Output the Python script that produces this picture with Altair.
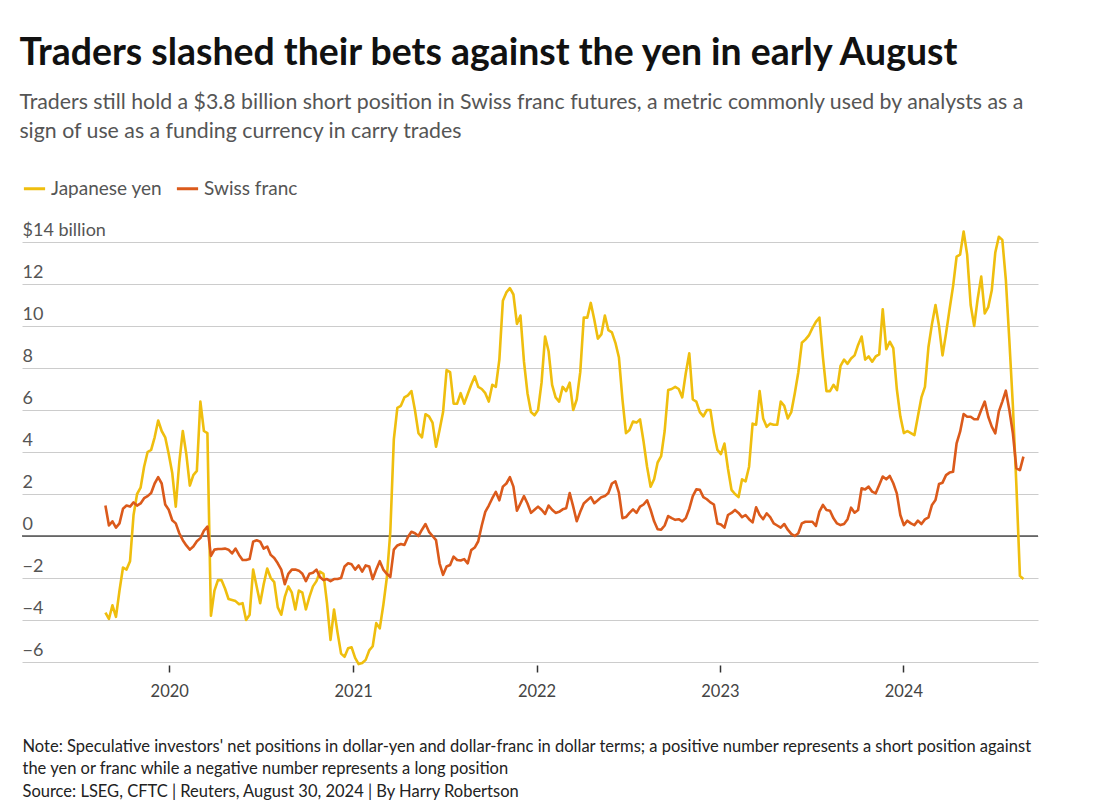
import altair as alt
import pandas as pd

# Weekly CFTC positioning, first week = 2019-08-27, $ billion
START_DATE = "2019-08-27"

yen = [
    -3.65, -3.95, -3.3, -3.85, -2.6, -1.5, -1.6, -1.2, 1.0, 2.0,
    2.3, 3.3, 4.0, 4.1, 4.7, 5.5, 5.0, 4.7, 3.9, 3.0,
    1.4, 3.5, 5.0, 3.9, 2.4, 2.9, 3.1, 6.4, 5.0, 4.9,
    -3.8, -2.6, -2.1, -2.1, -2.5, -3.0, -3.05, -3.1, -3.25, -3.2,
    -4.0, -3.75, -1.6, -2.4, -3.2, -2.3, -1.55, -2.0, -2.2, -3.4,
    -3.75, -2.9, -2.4, -2.7, -3.5, -2.6, -2.7, -3.5, -2.9, -2.4,
    -2.15, -1.7, -1.8, -3.2, -4.95, -3.5, -4.6, -5.6, -5.75, -5.35,
    -5.3, -5.8, -6.1, -6.05, -5.9, -5.45, -5.25, -4.15, -4.4, -3.3,
    -2.0, 0.2, 4.6, 6.1, 6.2, 6.6, 6.7, 6.9, 6.0, 4.9,
    4.7, 5.8, 5.7, 5.4, 4.25, 5.05, 5.9, 7.9, 7.8, 6.3,
    6.3, 6.8, 6.3, 6.75, 7.2, 7.6, 7.1, 7.0, 6.8, 6.4,
    7.2, 7.1, 8.4, 11.2, 11.6, 11.8, 11.5, 10.1, 10.5, 8.3,
    6.8, 5.9, 5.75, 6.0, 7.3, 9.5, 8.8, 7.2, 6.6, 6.4,
    7.1, 6.9, 7.3, 6.0, 6.5, 7.8, 10.4, 10.4, 11.1, 10.3,
    9.4, 9.6, 10.5, 9.8, 9.7, 9.2, 8.5, 6.5, 4.9, 5.05,
    5.45, 5.4, 5.55, 4.5, 3.3, 2.35, 2.7, 3.5, 3.8, 5.0,
    6.95, 7.0, 7.1, 7.0, 6.6, 7.75, 8.7, 6.5, 6.4, 5.9,
    5.7, 6.0, 6.0, 4.9, 4.1, 3.9, 4.4, 3.2, 2.2, 2.0,
    1.85, 2.7, 2.6, 3.3, 5.35, 5.3, 6.9, 5.6, 5.2, 5.35,
    5.3, 5.3, 6.4, 6.2, 5.6, 5.9, 6.8, 7.8, 9.2, 9.35,
    9.55, 9.9, 10.2, 10.4, 8.5, 6.9, 6.9, 7.2, 6.95, 8.1,
    8.4, 8.2, 8.45, 8.6, 9.1, 9.5, 8.4, 8.55, 8.3, 8.55,
    8.65, 10.8, 8.9, 9.25, 8.95, 7.0, 5.7, 4.9, 5.0, 4.9,
    4.8, 5.7, 6.6, 7.1, 9.0, 10.1, 11.0, 10.0, 8.6, 9.65,
    10.8, 11.9, 13.3, 13.4, 14.5, 13.4, 11.0, 10.0, 11.3, 12.35,
    10.6, 10.9, 11.7, 13.5, 14.25, 14.1, 12.2, 9.3, 6.2, 2.4,
    -1.9, -2.05,
]

franc = [
    1.45, 0.5, 0.7, 0.4, 0.6, 1.3, 1.45, 1.4, 1.6, 1.45,
    1.55, 1.8, 1.9, 2.05, 2.5, 2.8, 2.5, 1.5, 1.25, 0.75,
    0.6, 0.13, -0.2, -0.45, -0.65, -0.5, -0.25, -0.1, 0.25, 0.45,
    -0.95, -0.65, -0.62, -0.62, -0.6, -0.65, -0.83, -0.6, -0.9, -1.14,
    -1.14, -1.1, -0.27, -0.2, -0.27, -0.6, -0.5, -0.9, -1.05, -1.3,
    -1.6, -2.3, -1.8, -1.6, -1.6, -1.65, -1.8, -2.15, -1.8, -1.75,
    -1.6, -1.95, -2.1, -2.05, -2.15, -2.05, -2.05, -2.0, -1.45, -1.3,
    -1.35, -1.6, -1.4, -1.7, -1.4, -1.45, -2.05, -1.6, -1.2, -1.6,
    -1.8, -1.95, -0.65, -0.45, -0.38, -0.43, -0.05, 0.2, 0.13, 0.0,
    0.3, 0.57, 0.2, 0.0, -0.2, -1.3, -1.85, -1.45, -1.38, -0.98,
    -1.14, -1.17, -1.1, -1.3, -0.67, -0.55, -0.25, 0.5, 1.15, 1.45,
    1.8, 2.1, 1.7, 2.35, 2.5, 2.8, 2.35, 1.2, 1.55, 1.9,
    1.55, 1.1, 1.25, 1.4, 1.25, 1.05, 1.45, 1.25, 1.1, 1.15,
    1.27, 1.32, 2.05, 1.4, 0.7, 1.15, 1.55, 1.7, 1.85, 1.56,
    1.7, 1.85, 1.9, 2.05, 2.5, 2.6, 2.05, 0.85, 0.9, 1.1,
    1.27, 1.1, 1.4, 1.5, 1.7, 1.25, 0.7, 0.32, 0.3, 0.5,
    0.95, 0.85, 0.77, 0.8, 0.7, 0.85, 1.3, 1.9, 2.22, 2.2,
    1.85, 1.75, 1.6, 1.5, 0.6, 0.55, 0.4, 1.0, 1.1, 1.24,
    1.1, 0.9, 1.0, 0.8, 0.65, 1.37, 1.0, 0.8, 1.08, 0.9,
    0.6, 0.5, 0.4, 0.57, 0.3, 0.1, 0.0, 0.13, 0.6, 0.68,
    0.68, 0.68, 0.48, 1.16, 1.48, 1.24, 1.2, 0.84, 0.6, 0.52,
    0.57, 0.8, 1.35, 1.11, 1.24, 2.27, 2.22, 2.35, 2.11, 2.03,
    2.43, 2.83, 2.7, 2.86, 2.51, 2.03, 1.0, 0.52, 0.73, 0.6,
    0.52, 0.73, 0.57, 0.79, 0.89, 1.48, 1.71, 2.48, 2.54, 2.9,
    3.02, 3.06, 4.41, 4.97, 5.81, 5.68, 5.68, 5.56, 5.56, 6.0,
    6.4, 5.68, 5.21, 4.89, 5.92, 6.4, 6.92, 6.0, 4.89, 3.22,
    3.14, 3.78,
]

series_names = ["Japanese yen", "Swiss franc"]
series_colors = ["#EFBE0E", "#DB5A1B"]
year_ticks = [2020, 2021, 2022, 2023, 2024]
y_ticks = [-6, -4, -2, 0, 2, 4, 6, 8, 10, 12, 14]

title_text = "Traders slashed their bets against the yen in early August"
subtitle_lines = [
    "Traders still hold a $3.8 billion short position in Swiss franc futures, a metric commonly used by analysts as a",
    "sign of use as a funding currency in carry trades",
]
note_lines = [
    "Note: Speculative investors' net positions in dollar-yen and dollar-franc in dollar terms; a positive number represents a short position against",
    "the yen or franc while a negative number represents a long position",
    "Source: LSEG, CFTC | Reuters, August 30, 2024 | By Harry Robertson",
]

dates = pd.date_range(START_DATE, periods=len(yen), freq="7D")
df = pd.concat([
    pd.DataFrame({"date": dates, "series": series_names[0], "value": yen}),
    pd.DataFrame({"date": dates, "series": series_names[1], "value": franc}),
])
df["date"] = df["date"].dt.strftime("%Y-%m-%d")

FONT = "Lato"

x_enc = alt.X(
    "date:T",
    scale=alt.Scale(domain=[alt.DateTime(year=2019, month=3, date=14),
                            alt.DateTime(year=2024, month=9, date=25)]),
    axis=alt.Axis(
        values=[alt.DateTime(year=y, month=1, date=1) for y in year_ticks],
        format="%Y", labelFont=FONT, labelFontSize=16.5, labelColor="#444",
        domain=False, grid=False, ticks=True, tickSize=7, tickColor="#333",
        tickWidth=1.5, offset=3, labelPadding=11,
        title=note_lines, titleAnchor="start", titleAlign="left", titleX=0,
        titleY=86, titleBaseline="alphabetic", titleFont=FONT,
        titleFontSize=16.5, titleFontWeight="normal", titleColor="#222",
        titleLineHeight=22.5,
    ),
)
y_enc = alt.Y(
    "value:Q",
    scale=alt.Scale(domain=[-6, 14], nice=False, zero=False),
    axis=alt.Axis(
        values=y_ticks,
        labelExpr="datum.value == 14 ? '$14 billion' : (datum.value < 0 ? '\u2212' + abs(datum.value) : datum.label)",
        labelAlign="left", labelBaseline="alphabetic", labelOffset=-7,
        labelPadding=0, ticks=False, tickSize=0, domain=False,
        grid=True, gridColor="#cccccc", gridWidth=1,
        labelFont=FONT, labelFontSize=18, labelColor="#555", title=None,
    ),
)

zero = alt.Chart(pd.DataFrame({"v": [0]})).mark_rule(color="#000", strokeWidth=1.2).encode(y="v:Q")

lines = alt.Chart(df).mark_line(strokeWidth=2.6, strokeJoin="round").encode(
    x=x_enc,
    y=y_enc,
    color=alt.Color(
        "series:N",
        scale=alt.Scale(domain=series_names, range=series_colors),
        legend=alt.Legend(
            orient="none", legendX=0, legendY=-66, direction="horizontal",
            title=None, symbolType="stroke", symbolSize=450,
            symbolStrokeWidth=3, labelFont=FONT, labelFontSize=19,
            labelColor="#555", columnPadding=7, labelOffset=4, padding=0,
        ),
    ),
)

chart = alt.layer(zero, lines).properties(
    width=1016,
    height=420,
    padding={"left": 14, "top": 234, "right": 40, "bottom": 140},
    autosize=alt.AutoSizeParams(type="none"),
    background="white",
    title=alt.Title(
        text=title_text, subtitle=subtitle_lines, anchor="start",
        font=FONT, fontSize=37.4, fontWeight="bold", color="#111",
        subtitleFont=FONT, subtitleFontSize=21.3, subtitleColor="#555",
        subtitleLineHeight=28.5, subtitlePadding=20, offset=34, dx=-2,
    ),
).configure_view(stroke=None)

chart.save("out.html", embed_options={"renderer": "svg", "actions": False})
